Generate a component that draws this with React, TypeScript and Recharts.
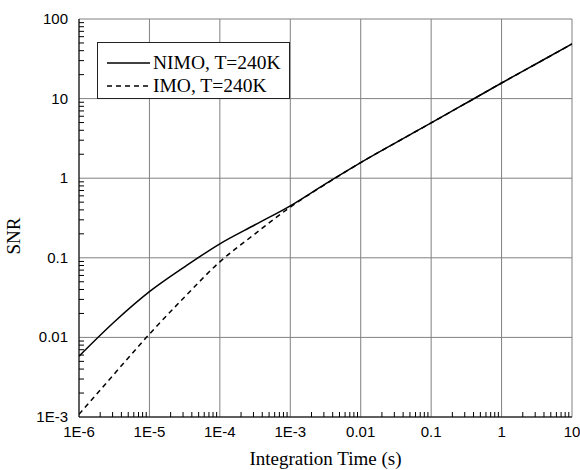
import { Legend, Line, LineChart, ReferenceLine, XAxis, YAxis } from "recharts";

// integration time (s)
const TIME = [1e-6, 3.16e-6, 1e-5, 3.16e-5, 1e-4, 3.16e-4, 1e-3, 3.16e-3, 1e-2, 3.16e-2, 0.1, 0.316, 1, 3.16, 10];
const NIMO = [0.0058, 0.0156, 0.0375, 0.077, 0.15, 0.26, 0.45, 0.85, 1.57, 2.8, 4.95, 8.8, 15.7, 27.6, 48.5];
const IMO = [0.00108, 0.00347, 0.011, 0.0322, 0.089, 0.2, 0.434, 0.84, 1.57, 2.8, 4.95, 8.8, 15.7, 27.6, 48.5];

const X_DECADES = [1e-6, 1e-5, 1e-4, 1e-3, 1e-2, 1e-1, 1, 10];
const X_LABELS = ["1E-6", "1E-5", "1E-4", "1E-3", "0.01", "0.1", "1", "10"];
const Y_DECADES = [1e-3, 1e-2, 1e-1, 1, 10, 100];
const Y_LABELS = ["1E-3", "0.01", "0.1", "1", "10", "100"];

const SERIES = [
  { key: "nimo", name: "NIMO, T=240K", dash: undefined },
  { key: "imo", name: "IMO, T=240K", dash: "5 4" },
];

const chartData = TIME.map((t, i) => ({ t, nimo: NIMO[i], imo: IMO[i] }));

const withMinors = (majors: number[]) =>
  majors.flatMap((m, i) =>
    i === majors.length - 1 ? [m] : [1, 2, 3, 4, 5, 6, 7, 8, 9].map((k) => m * k)
  );

const labelFor = (v: number, majors: number[], labels: string[]) => {
  const i = majors.findIndex((m) => Math.abs(v / m - 1) < 1e-6);
  return i >= 0 ? labels[i] : "";
};

const SANS = "'Liberation Sans', Arial, sans-serif";
const SERIF = "'Liberation Serif', 'Times New Roman', serif";

const XTick = (props: any) => {
  const { x, y, payload } = props;
  const label = labelFor(payload.value, X_DECADES, X_LABELS);
  const len = label ? 0 : 5;
  return (
    <g>
      <line x1={x} x2={x} y1={y} y2={y - len} stroke="#000" strokeWidth={1} />
      <text x={x} y={y + 20} textAnchor="middle" fontFamily={SANS} fontSize={15} fill="#000">
        {label}
      </text>
    </g>
  );
};

const YTick = (props: any) => {
  const { x, y, payload } = props;
  const label = labelFor(payload.value, Y_DECADES, Y_LABELS);
  const len = label ? 0 : 5;
  return (
    <g>
      <line x1={x} x2={x + len} y1={y} y2={y} stroke="#000" strokeWidth={1} />
      <text x={x - 11} y={y + 5} textAnchor="end" fontFamily={SANS} fontSize={15} fill="#000">
        {label}
      </text>
    </g>
  );
};

const LegendBox = () => (
  <div
    style={{
      width: 193,
      height: 57,
      boxSizing: "border-box",
      border: "1px solid #222",
      background: "#fff",
      fontFamily: SERIF,
      fontSize: 19.5,
      paddingTop: 8,
    }}
  >
    {SERIES.map((s) => (
      <div key={s.key} style={{ display: "flex", alignItems: "center", height: 23 }}>
        <svg width={56} height={10} style={{ marginLeft: 9 }}>
          <line x1={0} x2={43} y1={5} y2={5} stroke="#000" strokeWidth={1.3} strokeDasharray={s.dash} />
        </svg>
        <span style={{ marginLeft: -10, whiteSpace: "nowrap" }}>{s.name}</span>
      </div>
    ))}
  </div>
);

export default function App() {
  return (
    <div style={{ position: "absolute", left: 0, top: 0, background: "#fff" }}>
      <LineChart width={580} height={470} data={chartData} margin={{ top: 19, right: 8, left: 0, bottom: 23 }}>
        {X_DECADES.map((v) => (
          <ReferenceLine key={"x" + v} x={v} stroke="#808080" strokeWidth={1} />
        ))}
        {Y_DECADES.map((v) => (
          <ReferenceLine key={"y" + v} y={v} stroke="#808080" strokeWidth={1} />
        ))}
        <XAxis
          dataKey="t"
          type="number"
          scale="log"
          domain={[1e-6, 10]}
          allowDataOverflow
          ticks={withMinors(X_DECADES)}
          interval={0}
          tickSize={0}
          tickMargin={0}
          tick={<XTick />}
          height={30}
          axisLine={{ stroke: "#000" }}
          label={(p: any) => {
            const vb = p.viewBox;
            return (
              <text x={vb.x + vb.width / 2} y={vb.y + 48} textAnchor="middle" fontFamily={SERIF} fontSize={19} fill="#000">
                Integration Time (s)
              </text>
            );
          }}
        />
        <YAxis
          type="number"
          scale="log"
          domain={[1e-3, 100]}
          allowDataOverflow
          ticks={withMinors(Y_DECADES)}
          interval={0}
          tickSize={0}
          tickMargin={0}
          tick={<YTick />}
          width={79}
          axisLine={{ stroke: "#000" }}
          label={(p: any) => {
            const vb = p.viewBox;
            const cx = vb.x + 20;
            const cy = vb.y + vb.height / 2 + 18;
            return (
              <text x={cx} y={cy} transform={`rotate(-90, ${cx}, ${cy})`} textAnchor="middle" fontFamily={SERIF} fontSize={19} fill="#000">
                SNR
              </text>
            );
          }}
        />
        <Legend
          layout="horizontal"
          verticalAlign="middle"
          align="center"
          content={<LegendBox />}
          wrapperStyle={{ left: 97, top: 42, width: 193, height: 57 }}
        />
        {SERIES.map((s) => (
          <Line
            key={s.key}
            type="monotone"
            dataKey={s.key}
            name={s.name}
            stroke="#000"
            strokeWidth={1.5}
            strokeDasharray={s.dash}
            dot={false}
            activeDot={false}
            isAnimationActive={false}
          />
        ))}
      </LineChart>
    </div>
  );
}
